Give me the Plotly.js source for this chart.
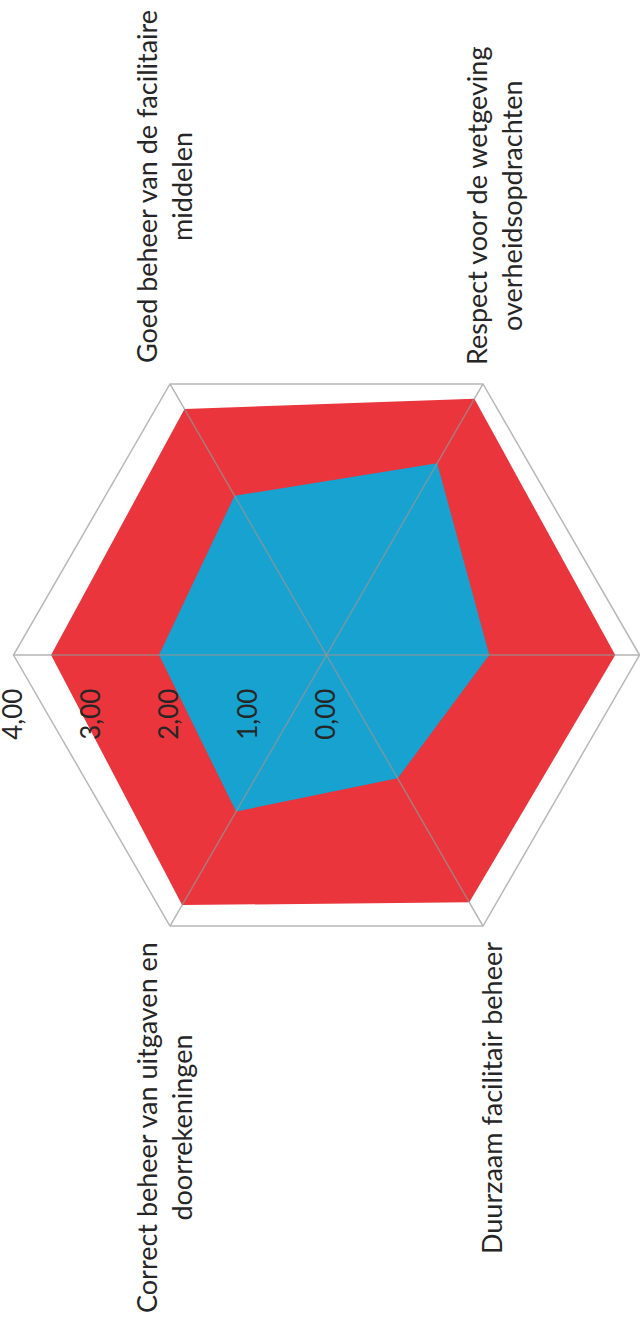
<!DOCTYPE html>
<html>
<head>
<meta charset="utf-8">
<script src="https://cdn.plot.ly/plotly-3.0.1.min.js"></script>
<style>
  html, body { margin: 0; padding: 0; background: #ffffff; overflow: hidden; }
  #wrap { width: 640px; height: 1330px; position: relative; overflow: hidden; }
  /* the chart is laid out landscape and turned a quarter turn counter-clockwise */
  #chart { position: absolute; left: 0; top: 0; width: 1330px; height: 640px;
           transform-origin: 0 0; transform: translate(0, 1330px) rotate(-90deg); }
</style>
</head>
<body>
<div id="wrap"><div id="chart"></div></div>
<script>
// Axes of the radar, clockwise from the top
const categories = [
  "Categorie 1",
  "Goed beheer van de facilitaire middelen",
  "Respect voor de wetgeving overheidsopdrachten",
  "Categorie 4",
  "Duurzaam facilitair beheer",
  "Correct beheer van uitgaven en doorrekeningen"
];
// Printed labels (line breaks as in the report); the first and fourth fall outside the page
const axisLabels = [
  "",
  "Goed beheer van de facilitaire<br>middelen",
  "Respect voor de wetgeving<br>overheidsopdrachten",
  "",
  "Duurzaam facilitair beheer",
  "Correct beheer van uitgaven en<br>doorrekeningen"
];
const seriesNames = ["Norm", "Resultaat"];
const normValues = [3.52, 3.63, 3.78, 3.69, 3.65, 3.69];
const resultValues = [2.14, 2.35, 2.83, 2.08, 1.82, 2.31];
const radialTicks = [0, 1, 2, 3, 4];

const W = 1330, H = 640;
const cx = 675, cy = 326.5, R = 313;
const font = "Lato, 'Open Sans', sans-serif";
const textColor = "#262626";
const rMax = radialTicks[radialTicks.length - 1];

function closed(a) { return a.concat([a[0]]); }

// spokes from the centre to each corner, drawn over the filled areas
const spokeR = [], spokeTheta = [];
categories.forEach(c => { spokeR.push(0, rMax, null); spokeTheta.push(c, c, null); });

const traces = [
  {
    type: "scatterpolar", name: seriesNames[0],
    r: closed(normValues), theta: closed(categories),
    mode: "lines", fill: "toself", fillcolor: "#E9353B",
    line: { width: 0, color: "#E9353B" }, hoverinfo: "r+theta"
  },
  {
    type: "scatterpolar", name: seriesNames[1],
    r: closed(resultValues), theta: closed(categories),
    mode: "lines", fill: "toself", fillcolor: "#17A2CF",
    line: { width: 0, color: "#17A2CF" }, hoverinfo: "r+theta"
  },
  {
    type: "scatterpolar", name: "spokes",
    r: spokeR, theta: spokeTheta, mode: "lines",
    line: { width: 1.5, color: "rgba(150,150,150,0.7)" },
    connectgaps: false, hoverinfo: "skip"
  }
];

// Category captions sit beside the side corners of the hexagon
const px = X => X / W, py = Y => 1 - Y / H;
const captionPos = [
  null,
  { X: 965, Y: 164, anchor: "left" },
  { X: 963, Y: 494, anchor: "left" },
  null,
  { X: 390, Y: 491, anchor: "right" },
  { X: 390, Y: 164, anchor: "right" }
];
const annotations = [];
axisLabels.forEach((t, i) => {
  if (!t || !captionPos[i]) return;
  const p = captionPos[i];
  annotations.push({
    text: t, xref: "paper", yref: "paper",
    x: px(p.X), y: py(p.Y), xanchor: p.anchor, yanchor: "middle",
    align: "center", showarrow: false,
    font: { family: font, size: 27, color: textColor }
  });
});

const layout = {
  width: W, height: H,
  margin: { l: 0, r: 0, t: 0, b: 0, pad: 0 },
  paper_bgcolor: "#ffffff",
  showlegend: false,
  separators: ",.",
  polar: {
    domain: { x: [px(cx - R), px(cx + R)], y: [py(cy + R), py(cy - R)] },
    gridshape: "linear",
    bgcolor: "#ffffff",
    angularaxis: {
      type: "category", categoryarray: categories, categoryorder: "array",
      rotation: 90, direction: "clockwise",
      showticklabels: false, ticks: "",
      showline: true, linecolor: "#b8b8b8", linewidth: 1.5,
      showgrid: false,
      layer: "above traces"
    },
    radialaxis: {
      range: [0, rMax], angle: 90, side: "counterclockwise",
      tickmode: "array", tickvals: radialTicks, tickformat: ".2f",
      tickangle: 90,
      // invisible ticks keep the labels clear of the axis
      ticks: "outside", ticklen: 24, tickcolor: "rgba(0,0,0,0)",
      showline: false, showgrid: false,
      tickfont: { family: font, size: 26, color: textColor },
      layer: "above traces"
    }
  },
  annotations: annotations
};

Plotly.newPlot("chart", traces, layout, { staticPlot: true, displayModeBar: false });
</script>
</body>
</html>
